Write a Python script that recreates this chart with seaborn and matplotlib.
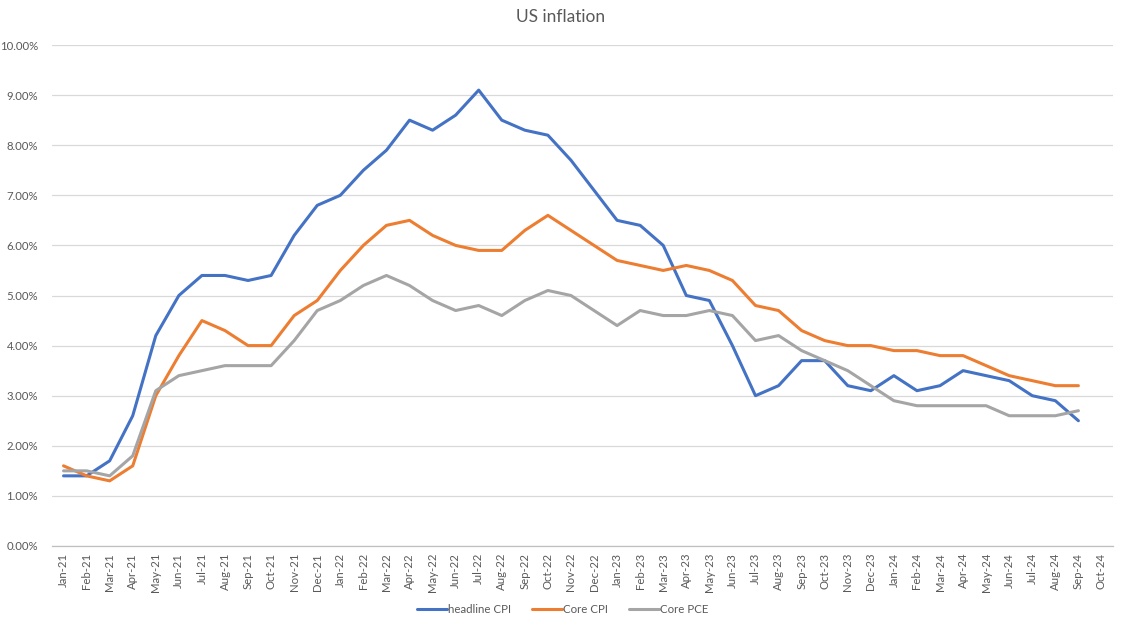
import numpy as np
import pandas as pd
import matplotlib
matplotlib.use("Agg")
import matplotlib.pyplot as plt
import seaborn as sns
from matplotlib.ticker import FuncFormatter, FixedLocator
from matplotlib.lines import Line2D

months = ["Jan-21", "Feb-21", "Mar-21", "Apr-21", "May-21", "Jun-21", "Jul-21", "Aug-21", "Sep-21", "Oct-21", "Nov-21", "Dec-21",
          "Jan-22", "Feb-22", "Mar-22", "Apr-22", "May-22", "Jun-22", "Jul-22", "Aug-22", "Sep-22", "Oct-22", "Nov-22", "Dec-22",
          "Jan-23", "Feb-23", "Mar-23", "Apr-23", "May-23", "Jun-23", "Jul-23", "Aug-23", "Sep-23", "Oct-23", "Nov-23", "Dec-23",
          "Jan-24", "Feb-24", "Mar-24", "Apr-24", "May-24", "Jun-24", "Jul-24", "Aug-24", "Sep-24", "Oct-24"]

headline_cpi = [1.4, 1.4, 1.7, 2.6, 4.2, 5.0, 5.4, 5.4, 5.3, 5.4, 6.2, 6.8,
                7.0, 7.5, 7.9, 8.5, 8.3, 8.6, 9.1, 8.5, 8.3, 8.2, 7.7, 7.1,
                6.5, 6.4, 6.0, 5.0, 4.9, 4.0, 3.0, 3.2, 3.7, 3.7, 3.2, 3.1,
                3.4, 3.1, 3.2, 3.5, 3.4, 3.3, 3.0, 2.9, 2.5]
core_cpi = [1.6, 1.4, 1.3, 1.6, 3.0, 3.8, 4.5, 4.3, 4.0, 4.0, 4.6, 4.9,
            5.5, 6.0, 6.4, 6.5, 6.2, 6.0, 5.9, 5.9, 6.3, 6.6, 6.3, 6.0,
            5.7, 5.6, 5.5, 5.6, 5.5, 5.3, 4.8, 4.7, 4.3, 4.1, 4.0, 4.0,
            3.9, 3.9, 3.8, 3.8, 3.6, 3.4, 3.3, 3.2, 3.2]
core_pce = [1.5, 1.5, 1.4, 1.8, 3.1, 3.4, 3.5, 3.6, 3.6, 3.6, 4.1, 4.7,
            4.9, 5.2, 5.4, 5.2, 4.9, 4.7, 4.8, 4.6, 4.9, 5.1, 5.0, 4.7,
            4.4, 4.7, 4.6, 4.6, 4.7, 4.6, 4.1, 4.2, 3.9, 3.7, 3.5, 3.2,
            2.9, 2.8, 2.8, 2.8, 2.8, 2.6, 2.6, 2.6, 2.7]

series_names = ["headline CPI", "Core CPI", "Core PCE"]
colors = ["#4472C4", "#ED7D31", "#A5A5A5"]

frames = []
for name, vals in zip(series_names, [headline_cpi, core_cpi, core_pce]):
    frames.append(pd.DataFrame({"pos": np.arange(len(vals)), "value": vals, "series": name}))
df = pd.concat(frames, ignore_index=True)

sns.set_theme(style="white")
plt.rcParams["font.family"] = ["Lato", "DejaVu Sans"]

fig = plt.figure(figsize=(11.28, 6.28), dpi=100)
ax = fig.add_axes([0.0461, 0.1306, 0.9406, 0.7977])

sns.lineplot(data=df, x="pos", y="value", hue="series", hue_order=series_names,
             palette=colors, linewidth=2.2, ax=ax, legend=False, sort=True)

ax.set_xlim(-0.5, len(months) - 0.5)
ax.set_ylim(0, 10)
ax.set_yticks(np.arange(0, 11, 1))
ax.yaxis.set_major_formatter(FuncFormatter(lambda v, p: f"{v:.2f}%"))
ax.set_xticks(np.arange(len(months)))
ax.set_xticklabels(months, rotation=90, fontsize=8.2, color="#595959")
ax.xaxis.set_minor_locator(FixedLocator(np.arange(-0.5, len(months), 1)))
ax.tick_params(axis="x", which="major", length=0, pad=5)
ax.tick_params(axis="x", which="minor", length=5, color="#BFBFBF", width=0.8)
ax.tick_params(axis="y", length=0, labelsize=8.2, labelcolor="#595959", pad=10)
ax.set_xlabel("")
ax.set_ylabel("")
ax.grid(axis="y", color="#D9D9D9", linewidth=0.9)
ax.set_axisbelow(True)
for s in ["top", "right", "left"]:
    ax.spines[s].set_visible(False)
ax.spines["bottom"].set_color("#BFBFBF")
ax.spines["bottom"].set_linewidth(0.9)

fig.suptitle("US inflation", x=0.497, y=0.985, fontsize=12.5, color="#595959")

handles = [Line2D([0], [0], color=c, linewidth=2.2) for c in colors]
fig.legend(handles, series_names, loc="center", bbox_to_anchor=(0.499, 0.029), ncol=3,
           frameon=False, fontsize=8.3, handlelength=2.6, handletextpad=0.1, columnspacing=1.8,
           labelcolor="#595959")

fig.savefig("out.png", dpi=100, facecolor="white")
